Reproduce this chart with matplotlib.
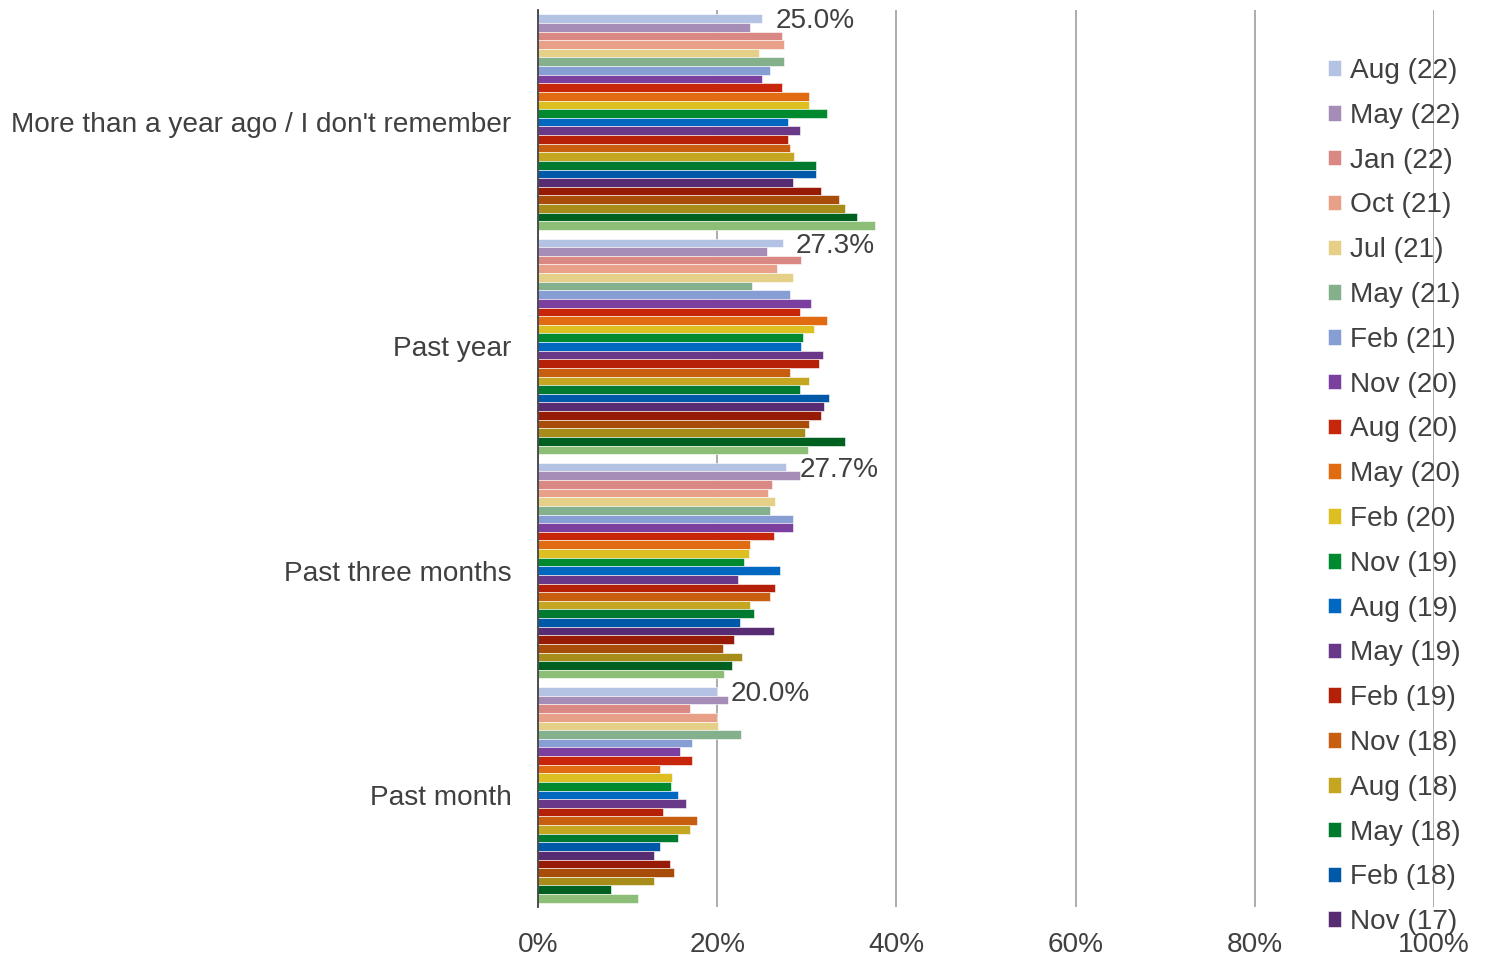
import matplotlib
matplotlib.use("Agg")
import matplotlib.pyplot as plt
import numpy as np
from matplotlib.ticker import FuncFormatter

plt.rcParams['font.family'] = ['Liberation Sans', 'DejaVu Sans']

categories = ["More than a year ago / I don't remember", "Past year",
              "Past three months", "Past month"]

series = ["Aug (22)", "May (22)", "Jan (22)", "Oct (21)", "Jul (21)", "May (21)",
          "Feb (21)", "Nov (20)", "Aug (20)", "May (20)", "Feb (20)", "Nov (19)",
          "Aug (19)", "May (19)", "Feb (19)", "Nov (18)", "Aug (18)", "May (18)",
          "Feb (18)", "Nov (17)", "Aug (17)", "May (17)", "Feb (17)", "Nov (16)",
          "Aug (16)"]

colors = ["#B4C3E3", "#A68DB8", "#D98883", "#E8A088", "#E6D088", "#85B08C",
          "#879ED4", "#7B3F9F", "#C8260A", "#E06B10", "#DEBF22", "#008A30",
          "#0068C0", "#693888", "#B52008", "#C85E10", "#C5A620", "#007A2E",
          "#0058A8", "#572C72", "#961A06", "#A84C0A", "#A88C1A", "#006020",
          "#8CBE78"]

more_than_year = [25.0, 23.7, 27.2, 27.4, 24.7, 27.4, 25.9, 25.0, 27.2, 30.3,
                  30.3, 32.3, 27.9, 29.2, 27.9, 28.1, 28.6, 31.0, 31.0, 28.5,
                  31.6, 33.6, 34.3, 35.6, 37.6]
past_year = [27.3, 25.6, 29.4, 26.7, 28.5, 23.9, 28.1, 30.5, 29.2, 32.3,
             30.8, 29.6, 29.4, 31.8, 31.4, 28.1, 30.3, 29.2, 32.5, 31.9,
             31.6, 30.3, 29.8, 34.3, 30.1]
past_three_months = [27.7, 29.2, 26.1, 25.7, 26.5, 25.9, 28.5, 28.5, 26.3, 23.7,
                     23.5, 23.0, 27.0, 22.3, 26.5, 25.9, 23.7, 24.1, 22.5, 26.3,
                     21.9, 20.6, 22.8, 21.7, 20.8]
past_month = [20.0, 21.2, 17.0, 20.0, 20.1, 22.7, 17.2, 15.9, 17.2, 13.6,
              15.0, 14.8, 15.6, 16.5, 13.9, 17.7, 17.0, 15.6, 13.6, 13.0,
              14.7, 15.2, 12.9, 8.1, 11.2]

values = np.array([more_than_year, past_year, past_three_months, past_month])  # [cat, series]

W, H = 1487, 956
FS = 20.2
TXT = '#404040'
fig = plt.figure(figsize=(W / 100, H / 100), dpi=100)
ax = fig.add_axes([538 / W, 1 - 907 / H, (1434 - 538) / W, (907 - 10) / H])

n = len(series)
h = 1.0 / (n + 1)
ypos = np.arange(len(categories))
handles = []
for j in range(n):
    b = ax.barh(ypos + (j - (n - 1) / 2) * h, values[:, j], height=h,
                color=colors[j], edgecolor='white', linewidth=0.4, label=series[j], zorder=3)
    handles.append(b)

# data labels for the first series
for i in range(len(categories)):
    v = values[i, 0]
    ax.text(v + 1.5, ypos[i] + (0 - (n - 1) / 2) * h + 0.012, f"{v:.1f}%",
            va='center', ha='left', fontsize=FS, color=TXT, zorder=5)

ax.set_xlim(0, 100)
ax.set_ylim(len(categories) - 0.5, -0.5)
ax.set_xticks(np.arange(0, 101, 20))
ax.xaxis.set_major_formatter(FuncFormatter(lambda x, p: f"{x:.0f}%"))
ax.set_yticks(ypos)
ax.set_yticklabels(categories)
ax.tick_params(axis='both', length=0, labelsize=FS, colors=TXT)
ax.tick_params(axis='y', pad=19)
ax.tick_params(axis='x', pad=18)
ax.grid(axis='x', color='#A6A6A6', linewidth=1.3, zorder=0)
for s in ['top', 'right', 'bottom']:
    ax.spines[s].set_visible(False)
ax.spines['left'].set_color('#404040')
ax.spines['left'].set_linewidth(1.3)
ax.spines['left'].set_zorder(4)

leg = fig.legend(handles[:20], series[:20], loc='upper left',
                 bbox_to_anchor=(1314 / W, 1 - 44 / H), frameon=False,
                 fontsize=FS, handlelength=0.47, handleheight=0.47,
                 handletextpad=0.33, labelspacing=0.67, borderpad=0)
for t in leg.get_texts():
    t.set_color(TXT)

fig.savefig("out.png", dpi=100)
